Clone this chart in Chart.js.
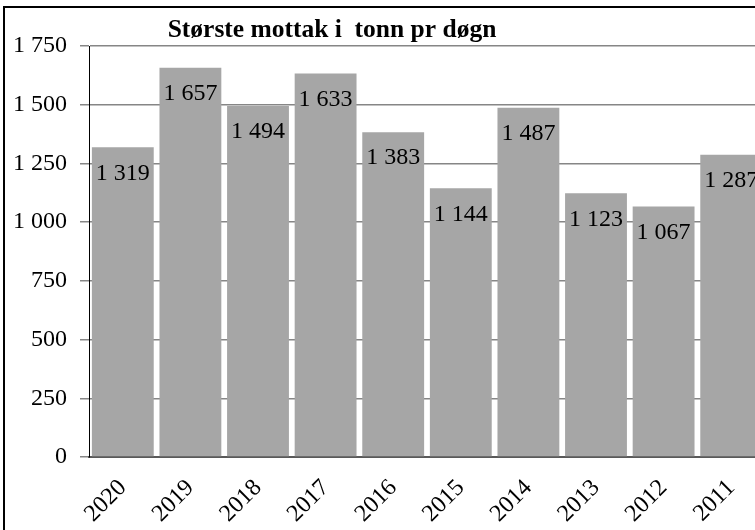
<!DOCTYPE html>
<html>
<head>
<meta charset="utf-8">
<script src="https://cdn.jsdelivr.net/npm/chart.js@4"></script>
<style>
html, body { margin:0; padding:0; background:#fff; overflow:hidden; width:755px; height:530px; }
#frame { position:absolute; left:3px; top:6px; width:800px; height:600px; border-left:2px solid #000; border-top:2px solid #000; }
#myChart { position:absolute; left:0; top:0; }
</style>
</head>
<body>
<div id="frame"></div>
<canvas id="myChart" width="790" height="530"></canvas>
<script>
// data
let years = ['2020', '2019', '2018', '2017', '2016', '2015', '2014', '2013', '2012', '2011'];
let mottak = [1319, 1657, 1494, 1633, 1383, 1144, 1487, 1123, 1067, 1287];
let yTicks = [0, 250, 500, 750, 1000, 1250, 1500, 1750];
let chartTitle = 'Største mottak i  tonn pr døgn';

let serif = '"Liberation Serif", "Times New Roman", serif';

// 1 750 style, space as thousands separator
let fmt = function(v) {
  return String(v).replace(/\B(?=(\d{3})+(?!\d))/g, ' ');
};

let barLabels = {
  id: 'barLabels',
  afterDatasetsDraw(chart) {
    let ctx = chart.ctx;
    let meta = chart.getDatasetMeta(0);
    ctx.save();
    ctx.font = '24px ' + serif;
    ctx.fillStyle = '#000';
    ctx.textAlign = 'center';
    ctx.textBaseline = 'middle';
    meta.data.forEach((bar, i) => {
      ctx.fillText(fmt(mottak[i]), bar.x, bar.y + 26);
    });
    ctx.restore();
  }
};

let titlePlugin = {
  id: 'titlePlugin',
  afterDraw(chart) {
    let ctx = chart.ctx;
    ctx.save();
    ctx.font = 'bold 25.5px ' + serif;
    ctx.fillStyle = '#000';
    ctx.textAlign = 'center';
    ctx.textBaseline = 'middle';
    ctx.fillText(chartTitle, 332, 30);
    ctx.restore();
  }
};

let ctx = document.getElementById('myChart').getContext('2d');
window.chart = new Chart(ctx, {
  type: 'bar',
  data: {
    labels: years,
    datasets: [{
      label: chartTitle,
      data: mottak,
      backgroundColor: '#a6a6a6',
      borderWidth: 0,
      barPercentage: 0.915,
      categoryPercentage: 1.0
    }]
  },
  options: {
    responsive: false,
    animation: false,
    layout: { padding: { top: 46, right: 25, left: 0, bottom: 0 } },
    plugins: {
      legend: { display: false },
      tooltip: { enabled: false },
      title: { display: false }
    },
    scales: {
      x: {
        grid: { display: false, drawTicks: false },
        border: { display: true, color: '#595959', width: 2 },
        ticks: {
          autoSkip: false,
          maxRotation: 45,
          minRotation: 45,
          padding: 17,
          color: '#000',
          font: { family: serif, size: 24 }
        },
        afterFit(scale) { scale.height = 73; }
      },
      y: {
        min: 0,
        max: 1750,
        afterBuildTicks(scale) { scale.ticks = yTicks.map(v => ({ value: v })); },
        grid: { color: '#868686', lineWidth: 1.5, tickLength: 9 },
        border: { display: true, color: '#000', width: 1 },
        ticks: {
          padding: 13,
          color: '#000',
          font: { family: serif, size: 24 },
          callback: v => fmt(v)
        },
        afterFit(scale) { scale.width = 89; }
      }
    }
  },
  plugins: [barLabels, titlePlugin]
});
</script>
</body>
</html>
